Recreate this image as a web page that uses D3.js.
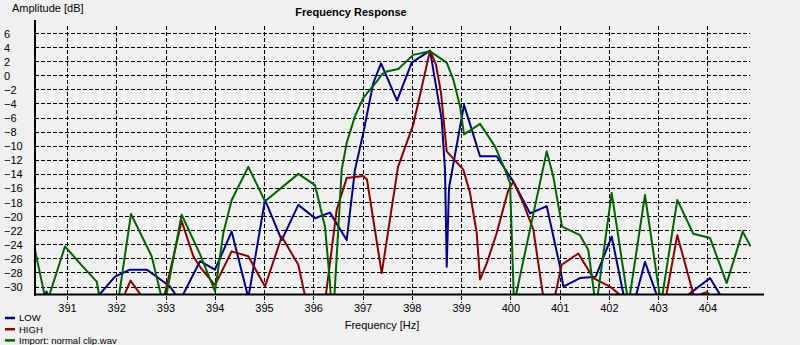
<!DOCTYPE html>
<html>
<head>
<meta charset="utf-8">
<script src="https://cdn.jsdelivr.net/npm/d3@7"></script>
<style>
  html, body { margin: 0; padding: 0; background: #f0f0f0; }
  svg { display: block; font-family: "Liberation Sans", Arial, sans-serif; }
</style>
</head>
<body>
<svg id="chart" width="800" height="345"></svg>
<script>
// Frequency response of the three recordings (frequency in Hz, amplitude in dB)
const lowFreq = [390.350, 390.492, 390.583, 390.675, 391.264, 391.588, 391.974, 392.279, 392.618, 392.821,
  393.091, 393.294, 393.700, 394.004, 394.343, 394.681, 395.020, 395.359, 395.696, 396.035,
  396.339, 396.678, 396.847, 397.015, 397.218, 397.375, 397.700, 397.998, 398.370, 398.607,
  398.674, 398.709, 398.755, 399.060, 399.385, 399.724, 400.061, 400.400, 400.739, 401.009,
  401.076, 401.415, 401.734, 402.058, 402.410, 402.734, 403.141, 403.445, 404.054, 404.420, 404.880];
const lowDb = [-36, -33, -30.7, -33, -34, -31.7, -28.6, -27.6, -27.6, -28.6,
  -30.0, -32, -26.4, -27.6, -22.2, -31.6, -17.7, -23.4, -18.4, -20.3,
  -19.5, -23.4, -13.4, -8.2, -1.1, 1.7, -3.6, 1.8, 3.5, -6.3,
  -13.4, -27.2, -16, -4.2, -11.5, -11.5, -15.1, -19.6, -18.6, -27.2,
  -30.0, -28.8, -28.6, -22.9, -35, -26.5, -34.5, -32.05, -28.8, -33, -36];

const highFreq = [390.350, 392.116, 392.289, 392.583, 392.888, 393.328, 393.564, 393.700, 394.004, 394.343,
  394.681, 395.020, 395.359, 395.696, 396.096, 396.475, 396.678, 397.015, 397.090, 397.389,
  397.720, 398.030, 398.370, 398.491, 398.593, 398.709, 399.046, 399.182, 399.318, 399.385,
  399.521, 399.724, 399.959, 400.061, 400.264, 400.467, 400.765, 401.043, 401.380, 401.685,
  402.024, 402.329, 402.938, 403.390, 403.729, 403.987, 404.115, 404.460, 404.880];
const highDb = [-40, -32, -29.15, -32, -34, -20.7, -25.7, -27.2, -29.8, -25.0,
  -25.7, -30.0, -22.9, -26.9, -40, -19.1, -14.6, -14.3, -14.8, -28.1,
  -13.0, -7.0, 3.5, 1.5, -2.5, -10.8, -13.4, -16.7, -22.4, -29.0,
  -26.7, -22.4, -16.3, -15.1, -18.2, -21.9, -36, -26.9, -25.3, -28.8,
  -30.0, -31.8, -40, -22.7, -31.4, -30.8, -31.6, -40, -40];

const importFreq = [390.350, 390.583, 390.959, 391.298, 391.603, 391.873, 392.299, 392.719, 392.969, 393.328,
  393.700, 394.004, 394.173, 394.343, 394.681, 395.020, 395.696, 396.035, 396.238, 396.339,
  396.390, 396.577, 396.678, 396.847, 397.015, 397.151, 397.287, 397.389, 397.490, 397.726,
  398.030, 398.370, 398.709, 398.843, 398.979, 399.060, 399.385, 399.689, 399.892, 399.994,
  400.028, 400.075, 400.739, 400.873, 401.050, 401.415, 401.583, 401.740, 402.058, 402.400,
  402.734, 403.059, 403.390, 403.715, 404.054, 404.393, 404.718, 404.880];
const importDb = [-24.8, -32.5, -24.3, -27.0, -29.3, -40, -19.7, -25.7, -33, -19.8,
  -25.4, -30.7, -22.4, -17.7, -13.0, -17.9, -14.0, -15.6, -21.5, -29.5,
  -36, -13.4, -9.6, -5.8, -3.2, -2.05, -0.9, 0.1, 0.55, 0.9,
  2.9, 3.4, 1.8, -0.6, -4.4, -8.4, -6.9, -10.1, -13.4, -15.3,
  -22.4, -32.5, -10.8, -14.4, -21.5, -22.7, -24.8, -33, -16.7, -32.5,
  -17.0, -32.5, -17.7, -22.5, -23.1, -29.5, -22.2, -24.3];

const seriesNames = ["LOW", "HIGH", "Import: normal clip.wav"];
const seriesColors = ["#00008b", "#8b0000", "#006400"];
const xTicks = [391, 392, 393, 394, 395, 396, 397, 398, 399, 400, 401, 402, 403, 404];
const yTicks = [6, 4, 2, 0, -2, -4, -6, -8, -10, -12, -14, -16, -18, -20, -22, -24, -26, -28, -30];

const series = [
  { name: seriesNames[0], color: seriesColors[0], pts: lowFreq.map((f, i) => [f, lowDb[i]]) },
  { name: seriesNames[1], color: seriesColors[1], pts: highFreq.map((f, i) => [f, highDb[i]]) },
  { name: seriesNames[2], color: seriesColors[2], pts: importFreq.map((f, i) => [f, importDb[i]]) }
];

const svg = d3.select("#chart");
const plotLeft = 35, plotRight = 750, axisEnd = 764, plotTop = 26, plotBottom = 294.3;

const x = d3.scaleLinear().domain([390.35, 404.866]).range([plotLeft, plotRight]);
const y = d3.scaleLinear().domain([-31.1, 7]).range([plotBottom, plotTop]);

// dashed grid
const grid = svg.append("g").attr("stroke", "#000").attr("stroke-width", 1)
  .attr("stroke-dasharray", "4,2").attr("shape-rendering", "crispEdges");
grid.selectAll("line.h").data(yTicks).join("line").attr("class", "h")
  .attr("x1", plotLeft).attr("x2", plotRight)
  .attr("y1", d => Math.round(y(d)) + 0.5).attr("y2", d => Math.round(y(d)) + 0.5);
grid.selectAll("line.v").data(xTicks).join("line").attr("class", "v")
  .attr("x1", d => Math.round(x(d)) + 0.5).attr("x2", d => Math.round(x(d)) + 0.5)
  .attr("y1", plotTop).attr("y2", 303);

// series
svg.append("clipPath").attr("id", "plotClip").append("rect")
  .attr("x", plotLeft).attr("y", plotTop).attr("width", plotRight - plotLeft + 1).attr("height", plotBottom - plotTop);
const line = d3.line().x(d => x(d[0])).y(d => y(d[1]));
svg.append("g").attr("clip-path", "url(#plotClip)")
  .selectAll("path").data(series).join("path")
  .attr("d", d => line(d.pts))
  .attr("fill", "none")
  .attr("stroke", d => d.color)
  .attr("stroke-width", 2)
  .attr("stroke-linejoin", "round");

// axis lines
svg.append("rect").attr("x", 34).attr("y", 20).attr("width", 2).attr("height", 276).attr("fill", "#000");
svg.append("rect").attr("x", 34).attr("y", 293.5).attr("width", axisEnd - 34).attr("height", 2).attr("fill", "#000");

// tick labels
const xAxis = svg.append("g").attr("transform", `translate(0,${plotBottom})`)
  .call(d3.axisBottom(x).tickValues(xTicks).tickSize(0).tickPadding(9.6).tickFormat(d3.format("d")));
xAxis.select(".domain").remove();
xAxis.selectAll("text").attr("font-size", 11).attr("fill", "#000");
xAxis.attr("font-family", null).attr("font-size", null);

const yAxis = svg.append("g").attr("transform", `translate(${plotLeft},0)`)
  .call(d3.axisLeft(y).tickValues(yTicks).tickSize(0).tickFormat(d3.format("d")));
yAxis.select(".domain").remove();
yAxis.attr("font-family", null).attr("font-size", null).attr("text-anchor", null);
yAxis.selectAll("text").attr("font-size", 11).attr("fill", "#000")
  .attr("text-anchor", "start").attr("x", 4 - plotLeft).attr("dy", "0.36em");

// titles
svg.append("text").attr("x", 351).attr("y", 16).attr("text-anchor", "middle")
  .attr("font-size", 11).attr("font-weight", "bold").text("Frequency Response");
svg.append("text").attr("x", 12).attr("y", 12).attr("font-size", 11).text("Amplitude [dB]");
svg.append("text").attr("x", 382).attr("y", 329).attr("text-anchor", "middle")
  .attr("font-size", 11).text("Frequency [Hz]");

// legend
const legend = svg.append("g").selectAll("g").data(series).join("g")
  .attr("transform", (d, i) => `translate(0,${318 + i * 11.2})`);
legend.append("line").attr("x1", 5).attr("x2", 15).attr("y1", 0).attr("y2", 0)
  .attr("stroke", d => d.color).attr("stroke-width", 2.5);
legend.append("text").attr("x", 19).attr("y", 3.3).attr("font-size", 9.5).text(d => d.name);
</script>
</body>
</html>
